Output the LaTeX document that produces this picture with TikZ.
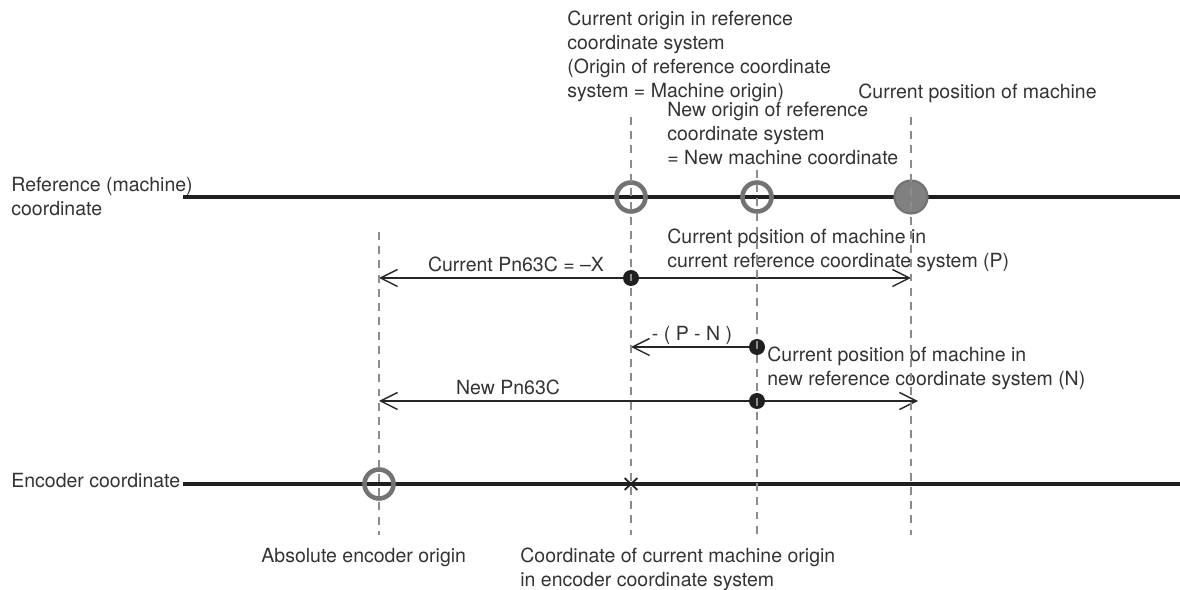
\documentclass[tikz,border=0pt]{standalone}
\usepackage{fontspec}
\setmainfont{TeX Gyre Heros}
\usetikzlibrary{arrows.meta,shapes.misc}

\tikzset{
  lbl/.style={inner sep=0pt, anchor=west, align=left, text=black!80},
  axis/.style={line width=2.6pt, black!88},
  guide/.style={black!45, line width=0.85pt, dash pattern=on 4.5pt off 3.6pt},
  ring/.style={circle, draw=black!55, line width=2.6pt, minimum size=0.58cm, inner sep=0pt},
  machpos/.style={circle, draw=black!55, fill=black!50, line width=1.2pt, minimum size=0.66cm, inner sep=0pt},
  dot/.style={circle, fill=black!88, minimum size=0.32cm, inner sep=0pt},
  xmark/.style={cross out, draw=black!88, line width=1pt, minimum width=0.22cm, minimum height=0.2cm, inner sep=0pt},
  dim/.style={black!85, line width=0.8pt, -{Straight Barb[length=0.34cm, width=0.34cm]}}
}

\begin{document}
\begin{tikzpicture}[x=0.02cm, y=-0.02cm, font=\fontsize{11.1}{13.66}\selectfont]
  \useasboundingbox (0,0) rectangle (1180,590);

  \node[lbl] (reflbl) at (11,197) {Reference (machine)\\coordinate};
  \node[lbl, anchor=base west] (enclbl) at (11,488) {Encoder coordinate};
  \node[lbl] (curorg) at (567,56) {Current origin in reference\\coordinate system\\(Origin of reference coordinate\\system = Machine origin)};
  \node[lbl] (neworg) at (667,134) {New origin of reference\\coordinate system\\= New machine coordinate};
  \node[lbl] (curpos) at (858,93) {Current position of machine};

  \coordinate (refL) at (183,197);
  \coordinate (refR) at (1180,197);
  \coordinate (encL) at (183,484);
  \coordinate (encR) at (1180,484);
  \draw[axis] (refL) -- (refR);
  \draw[axis] (encL) -- (encR);

  \node[ring] (oref) at (631,197) {};
  \node[ring] (onew) at (757,197) {};
  \node[machpos] (mach) at (911,197) {};
  \node[ring] (oenc) at (379,484) {};
  \node[xmark] (xenc) at (631,484) {};

  \node[dot] (p1) at (631,278) {};
  \coordinate (r1L) at (379,278);
  \coordinate (r1R) at (911,278);
  \draw[dim] (p1) -- (r1L);
  \draw[dim] (p1) -- (r1R);
  \node[lbl, anchor=center] (curpn) at (516,264) {Current Pn63C = –X};
  \node[lbl] (posP) at (667,250) {Current position of machine in\\current reference coordinate system (P)};

  \node[dot] (n1) at (757,347) {};
  \coordinate (r2L) at (631,347);
  \draw[dim] (n1) -- (r2L);
  \node[lbl, anchor=center] (pn) at (692,335) {- ( P - N )};
  \node[lbl] (posN) at (767,368) {Current position of machine in\\new reference coordinate system (N)};

  \node[dot] (n2) at (757,401) {};
  \coordinate (r3L) at (379,401);
  \coordinate (r3R) at (918,401);
  \draw[dim] (n2) -- (r3L);
  \draw[dim] (n2) -- (r3R);
  \node[lbl, anchor=center] (newpn) at (508,387) {New Pn63C};

  \node[lbl] (abslbl) at (261,558) {Absolute encoder origin};
  \node[lbl] (coorlbl) at (520,569) {Coordinate of current machine origin\\in encoder coordinate system};

  \coordinate (g1T) at (379,232);
  \coordinate (g1B) at (379,535);
  \coordinate (g2T) at (631,117);
  \coordinate (g2B) at (631,535);
  \coordinate (g3T) at (757,170);
  \coordinate (g3B) at (757,535);
  \coordinate (g4T) at (911,117);
  \coordinate (g4B) at (911,535);
  \draw[guide] (g1T) -- (g1B);
  \draw[guide] (g2T) -- (g2B);
  \draw[guide] (g3T) -- (g3B);
  \draw[guide] (g4T) -- (g4B);
\end{tikzpicture}
\end{document}
